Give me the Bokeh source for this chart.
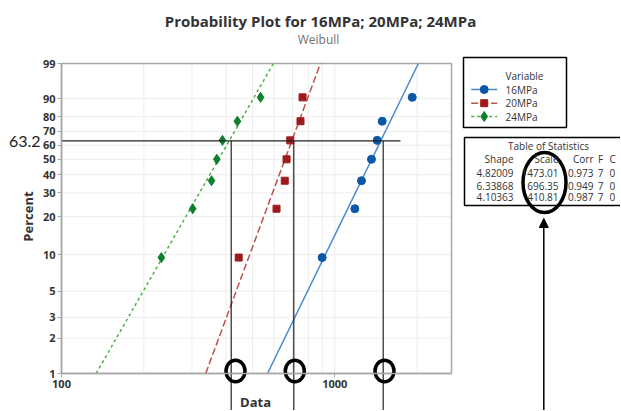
import math
from bokeh.plotting import figure
from bokeh.models import (FixedTicker, PrintfTickFormatter, Label, PolyAnnotation,
                          BoxAnnotation, Range1d, Arrow, NormalHead)
from bokeh.embed import file_html
from bokeh.resources import INLINE

# ---------------- data ----------------
percent = [9.46, 22.97, 36.49, 50.0, 63.51, 77.03, 90.54]      # plotting positions (%)
mpa16 = [899, 1184, 1252, 1362, 1429, 1491, 1920]
mpa20 = [445, 612, 656, 666, 687, 749, 762]
mpa24 = [232, 302, 354, 370, 388, 440, 535]
series_names = ["16MPa", "20MPa", "24MPa"]
shape = [4.82009, 6.33868, 4.10363]
scale = [1473.01, 696.35, 410.81]
corr = [0.973, 0.949, 0.987]
n_obs = [7, 7, 7]
percent_ticks = [1, 2, 3, 5, 10, 20, 30, 40, 50, 60, 70, 80, 90, 99]
x_ticks = [100, 1000]
x_grid = [200, 300, 400, 500, 600, 700, 800, 900, 1000, 2000]
characteristic_pct = 63.2
x_min, x_max = 100, 2673


def wt(p):
    """Weibull probability-paper transform of a percent value."""
    return math.log(-math.log(1.0 - p / 100.0))


y_min, y_max = wt(1), wt(99)

FONT = "Open Sans"
W, H = 620, 410
# page-pixel layout: the canvas starts at the page's top-left corner
CL, CR, CT, CB = 0, W, 0, H
PL, PR, PT, PB = 61, 451, 63, 373          # plot-area box
LX0, LX1 = math.log10(x_min), math.log10(x_max)
kx = (LX1 - LX0) / (PR - PL)
ky = (y_max - y_min) / (PB - PT)


def X(px):
    return 10 ** (LX0 + (px - PL) * kx)


def Y(py):
    return y_max - (py - PT) * ky


p = figure(width=W, height=H, x_axis_type="log", output_backend="svg",
           toolbar_location=None, x_range=Range1d(X(CL), X(CR)),
           y_range=Range1d(Y(CB), Y(CT)), min_border=0)
p.title.visible = False
p.background_fill_color = "white"
p.border_fill_color = "white"
p.outline_line_color = None
p.xgrid.visible = False
p.ygrid.visible = False

# axes placed at the plot-area edges
p.xaxis.fixed_location = y_min
p.xaxis.bounds = (x_min, x_max)
p.yaxis.fixed_location = x_min
p.yaxis.bounds = (y_min, y_max)
p.xaxis.ticker = FixedTicker(ticks=x_ticks, minor_ticks=[])
p.xaxis.formatter = PrintfTickFormatter(format="%d")
p.yaxis.ticker = FixedTicker(ticks=[wt(v) for v in percent_ticks], minor_ticks=[])
p.yaxis.major_label_overrides = {wt(v): str(v) for v in percent_ticks}
for ax in (p.xaxis[0], p.yaxis[0]):
    ax.axis_line_color = "#A8A8A8"
    ax.axis_line_width = 1.5
    ax.major_tick_line_color = "#A8A8A8"
    ax.major_tick_out = 4
    ax.major_tick_in = 0
    ax.minor_tick_line_color = None
    ax.major_label_standoff = 2
    ax.major_label_text_font = FONT
    ax.major_label_text_font_size = "11px"
    ax.major_label_text_color = "#333333"
    ax.major_label_text_font_style = "bold"

# grid lines inside the plot area
ygrid_vals = [wt(v) for v in percent_ticks]
p.segment(x0=x_grid, x1=x_grid, y0=[y_min] * len(x_grid), y1=[y_max] * len(x_grid),
          line_color="#EDEDED", line_width=1, level="underlay")
p.segment(x0=[x_min] * len(ygrid_vals), x1=[x_max] * len(ygrid_vals), y0=ygrid_vals,
          y1=ygrid_vals, line_color="#EDEDED", line_width=1, level="underlay")
p.add_layout(BoxAnnotation(left=x_min, right=x_max, bottom=y_min, top=y_max,
                           fill_alpha=0, line_color="#A8A8A8", line_alpha=1,
                           line_width=1.5, level="underlay"))

# series: points and fitted Weibull lines
marker_colors = ["#0B58A8", "#9E1B1B", "#0E7F2C"]
line_colors = ["#4A89D2", "#C0504D", "#4DAF4A"]
markers = ["circle", "square", "diamond"]
sizes = [8, 7, 10]
dashes = ["solid", "7 3", "3 3"]
values = [mpa16, mpa20, mpa24]
yvals = [wt(v) for v in percent]

for i in range(3):
    k, c = shape[i], scale[i]
    lx = [c * math.exp(y_min / k), c * math.exp(y_max / k)]
    p.line(lx, [y_min, y_max], line_color=line_colors[i], line_width=1.5,
           line_dash=dashes[i])
    p.scatter(values[i], yvals, marker=markers[i], size=sizes[i],
              fill_color=marker_colors[i], line_color=marker_colors[i])


def label(text, px, py, size, color="#333333", align="center", baseline="middle",
          style="normal", font=FONT, angle=0):
    p.add_layout(Label(x=X(px), y=Y(py), text=text, text_font=font,
                       text_font_size=size, text_color=color, text_align=align,
                       text_baseline=baseline, text_font_style=style, angle=angle))


def box(l, t, r, b):
    p.add_layout(PolyAnnotation(xs=[X(l), X(r), X(r), X(l)], ys=[Y(t), Y(t), Y(b), Y(b)],
                                line_color="black", line_alpha=1, line_width=1.5,
                                fill_alpha=0))


# legend (Variable)
box(463, 57, 566, 127)
label("Variable", 505, 75.5, "10px", align="left")
for i, ly in enumerate([89, 102.7, 116]):
    p.line([X(470.7), X(496.7)], [Y(ly), Y(ly)], line_color=line_colors[i],
           line_width=1.5, line_dash=dashes[i])
    p.scatter([X(483.7)], [Y(ly)], marker=markers[i], size=sizes[i],
              fill_color=marker_colors[i], line_color=marker_colors[i])
    label(series_names[i], 505, ly, "10px", align="left")

# titles and axis labels
label("Probability Plot for 16MPa; 20MPa; 24MPa", 320, 20, "15px", "#333333", style="bold")
label("Weibull", 318, 38.5, "12px", "#707070")
label("Percent", 27.5, 216, "13px", "#333333", style="bold", angle=math.pi / 2)
label("Data", 255, 401, "13px", "#333333", style="bold")

# 63.2 annotation and marked scale positions
yc = wt(characteristic_pct)
label(f"{characteristic_pct}", 40, 140.5, "16px", "#222222", align="right", font="Lato")
p.line([x_min, X(400)], [yc, yc], line_color="#222222", line_width=1.2)
vx_px = [230.7, 293.3, 382.7]
p.segment(x0=[X(v) for v in vx_px], x1=[X(v) for v in vx_px], y0=[yc] * 3,
          y1=[Y(CB + 5)] * 3, line_color="#222222", line_width=1.2)
p.ellipse(x=[X(v) for v in (235, 294.3, 384)], y=[Y(370.5)] * 3, width=19, height=21.5,
          width_units="screen", height_units="screen", fill_alpha=0,
          line_color="black", line_width=3.5)

# statistics table
box(464, 137, 680, 205)
label("Table of Statistics", 548, 145, "10px")
hy = 158.3
label("Shape", 513, hy, "10px", align="right")
label("Scale", 558, hy, "10px", align="right")
label("Corr", 593, hy, "10px", align="right")
label("F", 600, hy, "10px")
label("C", 609, hy, "10px", align="left")
for i, ry in enumerate([172.7, 185, 196.7]):
    label(f"{shape[i]:.5f}", 513, ry, "10px", align="right")
    label(f"{scale[i]:.2f}", 558, ry, "10px", align="right")
    label(f"{corr[i]:.3f}", 593, ry, "10px", align="right")
    label(str(n_obs[i]), 600, ry, "10px")
    label("0", 609, ry, "10px", align="left")

# circled Scale column and arrow
p.ellipse(x=[X(544)], y=[Y(182)], width=43, height=60, width_units="screen",
          height_units="screen", fill_alpha=0, line_color="black", line_width=3.5)
p.add_layout(Arrow(x_start=X(543.3), y_start=Y(CB + 5), x_end=X(543.3), y_end=Y(218),
                   line_color="black", line_width=1.5,
                   end=NormalHead(size=9, fill_color="black", line_color="black")))

open("out.html", "w").write(file_html(p, INLINE))
